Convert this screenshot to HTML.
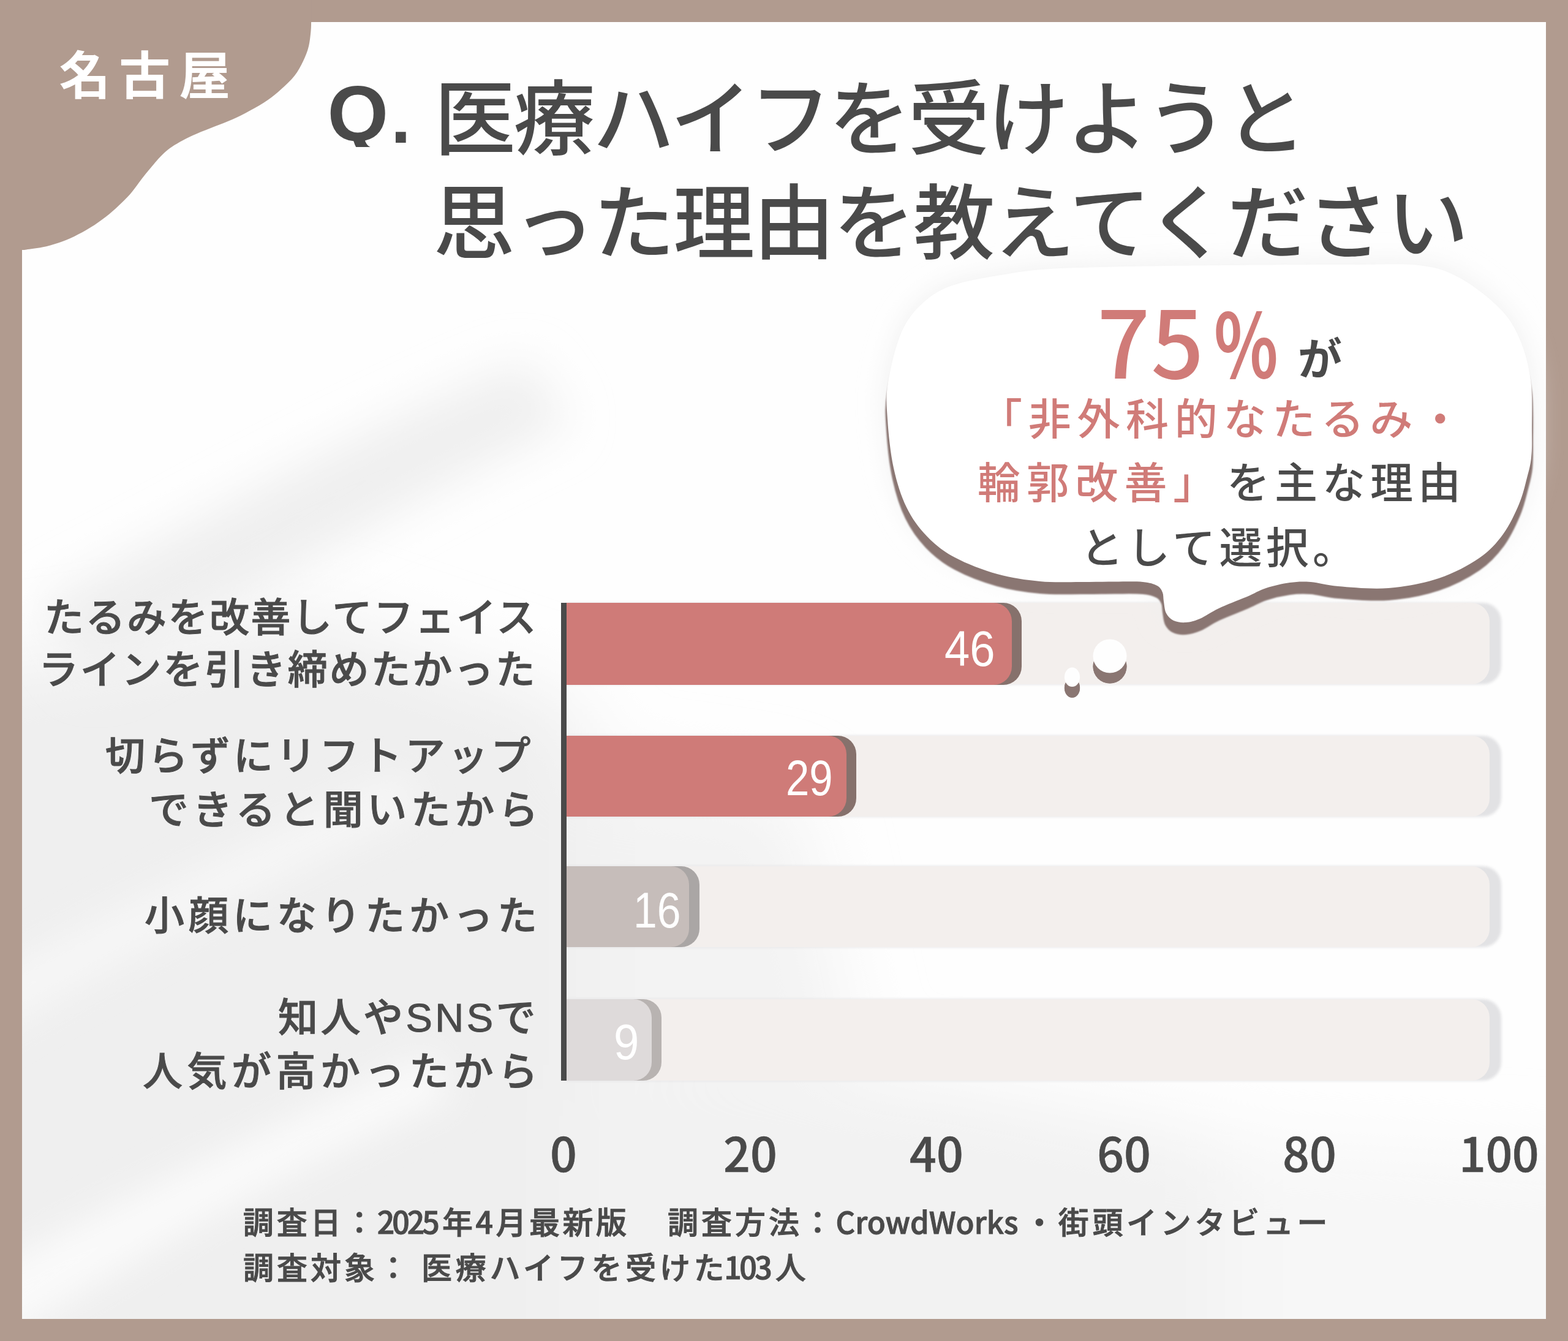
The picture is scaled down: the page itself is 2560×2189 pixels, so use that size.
<!DOCTYPE html>
<html lang="ja">
<head>
<meta charset="utf-8">
<style>
html,body{margin:0;padding:0;}
body{width:2560px;height:2189px;position:relative;overflow:hidden;background:#b19b8f;
  font-family:"Liberation Sans","Noto Sans CJK JP",sans-serif;color:#4a4a4a;}
.abs{position:absolute;white-space:nowrap;line-height:1;}
.z{z-index:10;}
#card{position:absolute;left:36px;top:36px;width:2488px;height:2117px;background:#fcfcfc;overflow:hidden;}
.jp{font-family:"Noto Sans CJK JP",sans-serif;}
.title{font-family:"Noto Sans CJK JP",sans-serif;font-weight:500;font-size:133px;color:#4a4a4a;letter-spacing:-3.6px;}
.lbl{font-family:"Liberation Sans","Noto Sans CJK JP",sans-serif;font-weight:500;font-size:65px;color:#4a4a4a;-webkit-text-stroke:1px #4a4a4a;}
.track{position:absolute;left:924px;width:1508px;background:#f3efed;border-radius:0 30px 30px 0;}
.trsh{position:absolute;left:924px;width:1527px;background:#e2e2e4;border-radius:0 30px 30px 0;filter:blur(2px);}
.bar{position:absolute;left:924px;border-radius:0 30px 30px 0;}
.num{position:absolute;transform-origin:0 0;font-family:"Liberation Sans",sans-serif;font-size:82px;line-height:1;color:#fff;white-space:nowrap;}
.tick{position:absolute;font-family:"Noto Sans CJK JP",sans-serif;font-weight:500;-webkit-text-stroke:0.6px #4a4a4a;font-size:77px;line-height:1;color:#4a4a4a;white-space:nowrap;}
.foot{font-family:"Noto Sans CJK JP",sans-serif;font-weight:500;font-size:50px;color:#4a4a4a;-webkit-text-stroke:1px #4a4a4a;}
.bub{font-family:"Noto Sans CJK JP",sans-serif;font-weight:500;font-size:70px;}
.rose{color:#d07b78;}
</style>
</head>
<body>
<div id="card"><svg width="2488" height="2117" viewBox="36 36 2488 2117" style="position:absolute;left:0;top:0">
<defs>
<filter id="b1" x="-50%" y="-50%" width="200%" height="200%"><feGaussianBlur stdDeviation="60"/></filter>
<filter id="b2" x="-50%" y="-50%" width="200%" height="200%"><feGaussianBlur stdDeviation="38"/></filter>
<filter id="b3" x="-50%" y="-50%" width="200%" height="200%"><feGaussianBlur stdDeviation="28"/></filter>
</defs>
<rect x="36" y="36" width="2488" height="2117" fill="#fefefe"/>
<g filter="url(#b1)">
<path d="M-200,1120 L500,1000 L950,1150 L1000,2400 L-200,2400 Z" fill="#efefef"/>
<path d="M900,1780 L1500,1760 L2000,1860 L2100,2400 L900,2400 Z" fill="#f2f2f2"/><path d="M2000,1860 L2700,1900 L2700,2400 L2000,2400 Z" fill="#f7f7f7"/>
<path d="M950,1250 L1300,1300 L1400,1750 L950,1780 Z" fill="#f3f3f3"/>
</g>
<g filter="url(#b2)">
<path d="M60,985 C300,865 600,690 860,590 L930,690 C690,800 420,970 150,1110 Z" fill="#efefef"/>
</g>
<g filter="url(#b3)">
<path d="M-100,2120 C150,1980 400,1860 700,1720 L740,1790 C450,1920 200,2060 -40,2220 Z" fill="#fafafa"/>
<path d="M-100,1640 C150,1500 400,1380 650,1260 L690,1320 C440,1440 190,1570 -60,1720 Z" fill="#f6f6f6"/>
</g>
</svg></div>

<!-- top-left blob -->
<svg class="abs" style="left:0;top:0" width="520" height="420" viewBox="0 0 520 420">
<path fill="#b19b8f" d="M0,0 H508.1 V36 C508.0,38.6 508.1,45.0 507.4,51.7 C506.7,58.4 505.9,68.3 503.8,76.3 C501.8,84.3 499.0,91.5 495.1,99.5 C491.2,107.5 486.6,116.4 480.6,124.1 C474.6,131.8 466.1,139.3 458.9,145.8 C451.7,152.3 445.6,157.4 437.2,163.2 C428.8,169.0 417.8,175.3 408.2,180.6 C398.6,185.9 388.9,190.8 379.3,195.1 C369.7,199.4 360.0,202.8 350.3,206.6 C340.6,210.4 329.8,214.6 321.3,218.2 C312.9,221.8 306.8,224.5 299.6,228.4 C292.4,232.3 283.7,237.3 277.9,241.4 C272.1,245.5 269.0,248.7 264.6,253.0 C260.2,257.3 255.8,262.4 251.5,267.4 C247.2,272.4 242.8,277.6 238.5,283.0 C234.2,288.4 229.8,294.2 225.5,299.9 C221.2,305.5 217.8,310.8 212.4,316.9 C207.0,323.0 199.4,330.3 192.9,336.4 C186.4,342.5 180.9,347.5 173.3,353.4 C165.7,359.3 156.0,366.2 147.3,371.6 C138.6,377.0 129.9,381.8 121.2,385.9 C112.5,390.0 103.9,393.5 95.2,396.4 C86.5,399.3 77.8,401.7 69.1,403.5 C60.4,405.3 48.5,406.6 43.0,407.4 C37.5,408.2 37.2,408.0 36.0,408.1 L36,408.1 L0,408.1 Z"/>
</svg>
<div class="abs jp" style="left:96.5px;top:76px;font-size:84px;font-weight:700;color:#fff;letter-spacing:13.8px;">名古屋</div>

<!-- title -->
<div class="abs z" style="left:534.6px;top:122px;height:118px;overflow:hidden;font-family:'Liberation Sans',sans-serif;font-weight:700;font-size:128px;color:#4a4a4a;">Q</div>
<div class="abs z" style="left:638px;top:133px;font-family:'Liberation Sans',sans-serif;font-weight:700;font-size:118px;color:#4a4a4a;">.</div>
<div class="abs title z" style="left:709px;top:118px;">医療ハイフを受けようと</div>
<div class="abs title z" style="left:707.4px;top:288px;letter-spacing:-2.35px;">思った理由を教えてください</div>

<!-- chart tracks -->
<div class="trsh" style="top:984px;height:133px;"></div>
<div class="track" style="top:984px;height:133px;"></div>
<div class="trsh" style="top:1201px;height:132px;"></div>
<div class="track" style="top:1201px;height:132px;"></div>
<div class="trsh" style="top:1414px;height:132px;"></div>
<div class="track" style="top:1414px;height:132px;"></div>
<div class="trsh" style="top:1631px;height:133px;"></div>
<div class="track" style="top:1631px;height:133px;"></div>

<!-- bars: shadow then main -->
<div class="bar" style="top:984px;height:134px;width:744px;background:#86716c;"></div>
<div class="bar" style="top:984px;height:134px;width:728px;background:#cf7b78;"></div>
<div class="bar" style="top:1201px;height:132px;width:474px;background:#86716c;"></div>
<div class="bar" style="top:1201px;height:132px;width:458px;background:#cf7b78;"></div>
<div class="bar" style="top:1414px;height:132px;width:218px;background:#aaa6a5;"></div>
<div class="bar" style="top:1414px;height:132px;width:201px;background:#c6bdba;"></div>
<div class="bar" style="top:1631px;height:133px;width:156px;background:#b8b3b1;"></div>
<div class="bar" style="top:1631px;height:133px;width:140px;background:#dedada;"></div>

<!-- speech bubble -->
<svg class="abs" style="left:0;top:0" width="2560" height="1200" viewBox="0 0 2560 1200">
<defs><filter id="halo" x="-20%" y="-20%" width="140%" height="140%"><feGaussianBlur stdDeviation="22"/></filter></defs>
<path fill="#efefef" filter="url(#halo)" d="M1568.0,462.0 C1586.7,458.7 1641.3,446.3 1680.0,442.0 C1718.7,437.7 1746.7,437.5 1800.0,436.0 C1853.3,434.5 1933.3,433.7 2000.0,433.0 C2066.7,432.3 2147.3,432.0 2200.0,432.0 C2252.7,432.0 2285.7,429.5 2316.0,433.0 C2346.3,436.5 2360.2,441.5 2382.0,453.0 C2403.8,464.5 2430.7,485.7 2447.0,502.0 C2463.3,518.3 2471.3,531.3 2480.0,551.0 C2488.7,570.7 2495.5,594.3 2499.0,620.0 C2502.5,645.7 2500.8,683.8 2501.0,705.0 C2501.2,726.2 2501.3,734.5 2500.0,747.0 C2498.7,759.5 2496.3,767.3 2493.0,780.0 C2489.7,792.7 2486.5,807.7 2480.0,823.0 C2473.5,838.3 2464.8,857.3 2454.0,872.0 C2443.2,886.7 2432.5,899.0 2415.0,911.0 C2397.5,923.0 2373.7,935.8 2349.0,944.0 C2324.3,952.2 2294.3,957.8 2267.0,960.0 C2239.7,962.2 2206.2,958.7 2185.0,957.0 C2163.8,955.3 2153.2,951.0 2140.0,950.0 C2126.8,949.0 2118.2,949.3 2106.0,951.0 C2093.8,952.7 2078.7,956.2 2067.0,960.0 C2055.3,963.8 2048.8,968.5 2036.0,974.0 C2023.2,979.5 2002.8,987.0 1990.0,993.0 C1977.2,999.0 1968.0,1006.2 1959.0,1010.0 C1950.0,1013.8 1943.2,1015.5 1936.0,1016.0 C1928.8,1016.5 1921.3,1015.5 1916.0,1013.0 C1910.7,1010.5 1906.7,1006.2 1904.0,1001.0 C1901.3,995.8 1901.0,987.7 1900.0,982.0 C1899.0,976.3 1899.8,971.3 1898.0,967.0 C1896.2,962.7 1894.3,958.8 1889.0,956.0 C1883.7,953.2 1877.5,951.1 1866.0,950.0 C1854.5,948.9 1836.5,949.5 1820.0,949.5 C1803.5,949.5 1787.3,950.1 1767.0,950.0 C1746.7,949.9 1721.2,951.2 1698.0,949.0 C1674.8,946.8 1651.2,943.5 1628.0,937.0 C1604.8,930.5 1578.2,920.3 1559.0,910.0 C1539.8,899.7 1526.2,888.7 1513.0,875.0 C1499.8,861.3 1489.0,846.5 1480.0,828.0 C1471.0,809.5 1464.2,787.8 1459.0,764.0 C1453.8,740.2 1450.5,708.3 1449.0,685.0 C1447.5,661.7 1446.0,648.2 1450.0,624.0 C1454.0,599.8 1462.7,562.3 1473.0,540.0 C1483.3,517.7 1496.2,503.0 1512.0,490.0 C1527.8,477.0 1540.0,470.0 1568.0,462.0 C1596.0,454.0 1661.3,445.3 1680.0,442.0 "/>
<filter id="sb" x="-5%" y="-5%" width="110%" height="110%"><feGaussianBlur stdDeviation="1.3"/></filter>
<g transform="translate(0,18)" filter="url(#sb)"><path fill="#8a7672" stroke="#8a7672" stroke-width="4" d="M1568.0,462.0 C1586.7,458.7 1641.3,446.3 1680.0,442.0 C1718.7,437.7 1746.7,437.5 1800.0,436.0 C1853.3,434.5 1933.3,433.7 2000.0,433.0 C2066.7,432.3 2147.3,432.0 2200.0,432.0 C2252.7,432.0 2285.7,429.5 2316.0,433.0 C2346.3,436.5 2360.2,441.5 2382.0,453.0 C2403.8,464.5 2430.7,485.7 2447.0,502.0 C2463.3,518.3 2471.3,531.3 2480.0,551.0 C2488.7,570.7 2495.5,594.3 2499.0,620.0 C2502.5,645.7 2500.8,683.8 2501.0,705.0 C2501.2,726.2 2501.3,734.5 2500.0,747.0 C2498.7,759.5 2496.3,767.3 2493.0,780.0 C2489.7,792.7 2486.5,807.7 2480.0,823.0 C2473.5,838.3 2464.8,857.3 2454.0,872.0 C2443.2,886.7 2432.5,899.0 2415.0,911.0 C2397.5,923.0 2373.7,935.8 2349.0,944.0 C2324.3,952.2 2294.3,957.8 2267.0,960.0 C2239.7,962.2 2206.2,958.7 2185.0,957.0 C2163.8,955.3 2153.2,951.0 2140.0,950.0 C2126.8,949.0 2118.2,949.3 2106.0,951.0 C2093.8,952.7 2078.7,956.2 2067.0,960.0 C2055.3,963.8 2048.8,968.5 2036.0,974.0 C2023.2,979.5 2002.8,987.0 1990.0,993.0 C1977.2,999.0 1968.0,1006.2 1959.0,1010.0 C1950.0,1013.8 1943.2,1015.5 1936.0,1016.0 C1928.8,1016.5 1921.3,1015.5 1916.0,1013.0 C1910.7,1010.5 1906.7,1006.2 1904.0,1001.0 C1901.3,995.8 1901.0,987.7 1900.0,982.0 C1899.0,976.3 1899.8,971.3 1898.0,967.0 C1896.2,962.7 1894.3,958.8 1889.0,956.0 C1883.7,953.2 1877.5,951.1 1866.0,950.0 C1854.5,948.9 1836.5,949.5 1820.0,949.5 C1803.5,949.5 1787.3,950.1 1767.0,950.0 C1746.7,949.9 1721.2,951.2 1698.0,949.0 C1674.8,946.8 1651.2,943.5 1628.0,937.0 C1604.8,930.5 1578.2,920.3 1559.0,910.0 C1539.8,899.7 1526.2,888.7 1513.0,875.0 C1499.8,861.3 1489.0,846.5 1480.0,828.0 C1471.0,809.5 1464.2,787.8 1459.0,764.0 C1453.8,740.2 1450.5,708.3 1449.0,685.0 C1447.5,661.7 1446.0,648.2 1450.0,624.0 C1454.0,599.8 1462.7,562.3 1473.0,540.0 C1483.3,517.7 1496.2,503.0 1512.0,490.0 C1527.8,477.0 1540.0,470.0 1568.0,462.0 C1596.0,454.0 1661.3,445.3 1680.0,442.0 "/></g>
<path fill="#ffffff" d="M1568.0,462.0 C1586.7,458.7 1641.3,446.3 1680.0,442.0 C1718.7,437.7 1746.7,437.5 1800.0,436.0 C1853.3,434.5 1933.3,433.7 2000.0,433.0 C2066.7,432.3 2147.3,432.0 2200.0,432.0 C2252.7,432.0 2285.7,429.5 2316.0,433.0 C2346.3,436.5 2360.2,441.5 2382.0,453.0 C2403.8,464.5 2430.7,485.7 2447.0,502.0 C2463.3,518.3 2471.3,531.3 2480.0,551.0 C2488.7,570.7 2495.5,594.3 2499.0,620.0 C2502.5,645.7 2500.8,683.8 2501.0,705.0 C2501.2,726.2 2501.3,734.5 2500.0,747.0 C2498.7,759.5 2496.3,767.3 2493.0,780.0 C2489.7,792.7 2486.5,807.7 2480.0,823.0 C2473.5,838.3 2464.8,857.3 2454.0,872.0 C2443.2,886.7 2432.5,899.0 2415.0,911.0 C2397.5,923.0 2373.7,935.8 2349.0,944.0 C2324.3,952.2 2294.3,957.8 2267.0,960.0 C2239.7,962.2 2206.2,958.7 2185.0,957.0 C2163.8,955.3 2153.2,951.0 2140.0,950.0 C2126.8,949.0 2118.2,949.3 2106.0,951.0 C2093.8,952.7 2078.7,956.2 2067.0,960.0 C2055.3,963.8 2048.8,968.5 2036.0,974.0 C2023.2,979.5 2002.8,987.0 1990.0,993.0 C1977.2,999.0 1968.0,1006.2 1959.0,1010.0 C1950.0,1013.8 1943.2,1015.5 1936.0,1016.0 C1928.8,1016.5 1921.3,1015.5 1916.0,1013.0 C1910.7,1010.5 1906.7,1006.2 1904.0,1001.0 C1901.3,995.8 1901.0,987.7 1900.0,982.0 C1899.0,976.3 1899.8,971.3 1898.0,967.0 C1896.2,962.7 1894.3,958.8 1889.0,956.0 C1883.7,953.2 1877.5,951.1 1866.0,950.0 C1854.5,948.9 1836.5,949.5 1820.0,949.5 C1803.5,949.5 1787.3,950.1 1767.0,950.0 C1746.7,949.9 1721.2,951.2 1698.0,949.0 C1674.8,946.8 1651.2,943.5 1628.0,937.0 C1604.8,930.5 1578.2,920.3 1559.0,910.0 C1539.8,899.7 1526.2,888.7 1513.0,875.0 C1499.8,861.3 1489.0,846.5 1480.0,828.0 C1471.0,809.5 1464.2,787.8 1459.0,764.0 C1453.8,740.2 1450.5,708.3 1449.0,685.0 C1447.5,661.7 1446.0,648.2 1450.0,624.0 C1454.0,599.8 1462.7,562.3 1473.0,540.0 C1483.3,517.7 1496.2,503.0 1512.0,490.0 C1527.8,477.0 1540.0,470.0 1568.0,462.0 C1596.0,454.0 1661.3,445.3 1680.0,442.0 "/>
<ellipse cx="1812" cy="1088" rx="27.5" ry="27.5" fill="#8a7672"/>
<ellipse cx="1750.5" cy="1123" rx="12.6" ry="15.8" fill="#8a7672"/>
</svg>

<!-- dots (thought bubble) over track -->
<svg class="abs" style="left:1700px;top:1020px" width="180" height="140" viewBox="1700 1020 180 140">
<ellipse cx="1812" cy="1088" rx="27.5" ry="27.5" fill="#8a7672"/>
<ellipse cx="1812" cy="1071" rx="27.5" ry="27.5" fill="#fefefe"/>
<ellipse cx="1750.5" cy="1123" rx="12.6" ry="15.8" fill="#8a7672"/>
<ellipse cx="1750.5" cy="1105.3" rx="12.6" ry="15.8" fill="#fefefe"/>
</svg>

<!-- axis -->
<div class="abs" style="left:916px;top:984px;width:8.5px;height:780px;background:#4a4a4a;"></div>

<!-- bar numbers -->
<div class="num" style="left:1542.2px;top:1017.6px;transform:scaleX(0.905);">46</div>
<div class="num" style="left:1282.6px;top:1228.9px;transform:scaleX(0.84);">29</div>
<div class="num" style="left:1033.8px;top:1444.9px;transform:scaleX(0.85);">16</div>
<div class="num" style="left:1002.3px;top:1659.9px;transform:scaleX(0.906);">9</div>

<!-- labels -->
<div class="abs lbl" style="left:72px;top:976px;letter-spacing:2.5px;">たるみを改善してフェイス</div>
<div class="abs lbl" style="left:63px;top:1061px;letter-spacing:2.8px;">ラインを引き締めたかった</div>
<div class="abs lbl" style="left:172px;top:1202px;letter-spacing:5.1px;">切らずにリフトアップ</div>
<div class="abs lbl" style="left:243px;top:1290px;letter-spacing:6.5px;">できると聞いたから</div>
<div class="abs lbl" style="left:236px;top:1462.5px;letter-spacing:7px;">小顔になりたかった</div>
<div class="abs lbl" style="left:454px;top:1628.5px;letter-spacing:4.5px;">知人やSNSで</div>
<div class="abs lbl" style="left:233px;top:1717px;letter-spacing:7.5px;">人気が高かったから</div>

<!-- ticks -->
<div class="tick" style="left:898px;top:1841px;">0</div>
<div class="tick" style="left:1181px;top:1841px;">20</div>
<div class="tick" style="left:1485px;top:1841px;">40</div>
<div class="tick" style="left:1791px;top:1841px;">60</div>
<div class="tick" style="left:2094px;top:1841px;">80</div>
<div class="tick" style="left:2382px;top:1841px;letter-spacing:-0.5px;">100</div>

<!-- bubble text -->
<div class="abs jp rose" style="left:1791px;top:475.6px;font-size:152px;font-weight:500;">7</div>
<div class="abs jp rose" style="left:1879px;top:475.6px;font-size:152px;font-weight:500;">5</div>
<div class="abs jp rose" style="left:1982.4px;top:482px;font-size:145px;font-weight:700;transform:scaleX(0.75);transform-origin:0 0;">%</div>
<div class="abs bub" style="left:2119px;top:545px;font-size:72px;font-weight:700;color:#4a4a4a;">が</div>
<div class="abs bub rose" style="left:1599px;top:645px;letter-spacing:9.7px;">「非外科的なたるみ・</div>
<div class="abs bub" style="left:1596px;top:749px;letter-spacing:9.8px;"><span class="rose">輪郭改善」</span><span style="margin-left:8px;letter-spacing:8px;">を主な理由</span></div>
<div class="abs bub" style="left:1764px;top:855px;letter-spacing:6.2px;">として選択。</div>

<!-- footnote -->
<div class="abs foot" style="left:396.7px;top:1967px;letter-spacing:5px;">調査日：</div>
<div class="abs foot" style="left:615.8px;top:1967px;letter-spacing:-4px;">2025</div>
<div class="abs foot" style="left:722px;top:1967px;letter-spacing:4.5px;">年4月最新版</div>
<div class="abs foot" style="left:1090px;top:1967px;letter-spacing:5px;">調査方法：</div>
<div class="abs foot" style="left:1364.6px;top:1968px;font-size:49px;">CrowdWorks</div>
<div class="abs foot" style="left:1672px;top:1967px;letter-spacing:5.7px;">・街頭インタビュー</div>
<div class="abs foot" style="left:397px;top:2041px;letter-spacing:5px;">調査対象：</div>
<div class="abs foot" style="left:688px;top:2041px;letter-spacing:5.7px;">医療ハイフを受けた</div>
<div class="abs foot" style="left:1182.3px;top:2041px;letter-spacing:-3.5px;">103</div>
<div class="abs foot" style="left:1265.8px;top:2041px;">人</div>

</body>
</html>
